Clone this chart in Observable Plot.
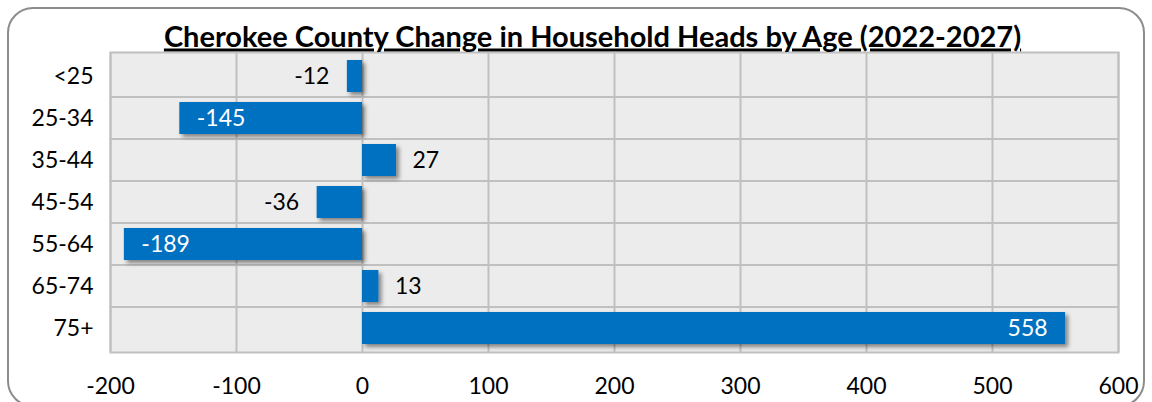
<!DOCTYPE html>
<html>
<head>
<meta charset="utf-8">
<script src="https://cdn.jsdelivr.net/npm/d3@7"></script>
<script src="https://cdn.jsdelivr.net/npm/@observablehq/plot@0.6"></script>
<style>
  html, body { margin: 0; padding: 0; background: #fff; }
  #wrap { position: relative; width: 1152px; height: 402px; overflow: hidden; }
  #frame { position: absolute; left: 7px; top: 7px; width: 1138px; height: 400px;
           border: 2px solid #8c8c8c; border-radius: 26px; box-sizing: border-box; pointer-events: none; }
</style>
</head>
<body>
<div id="wrap"><div id="frame"></div></div>
<script>
const title = "Cherokee County Change in Household Heads by Age (2022-2027)";
const ages = ["<25", "25-34", "35-44", "45-54", "55-64", "65-74", "75+"];
const changes = [-12, -145, 27, -36, -189, 13, 558];
const xTicks = [-200, -100, 0, 100, 200, 300, 400, 500, 600];

const data = ages.map((age, i) => ({age, value: changes[i]}));
const inside = d => Math.abs(d.value) > 100;
const fmt = v => v < 0 ? "-" + Math.abs(v) : String(v);
const font = "Lato, 'Open Sans', sans-serif";

const labelMark = (rows, anchor, dx, fill) => Plot.text(rows, {
  x: "value", y: "age", text: d => fmt(d.value), textAnchor: anchor, dx, fill, fontSize: 23
});

const chart = Plot.plot({
  width: 1152,
  height: 402,
  marginTop: 52,
  marginBottom: 50,
  marginLeft: 110,
  marginRight: 34,
  style: {fontFamily: font, fontSize: "23px", color: "#000", background: "transparent"},
  x: {domain: [-200, 600], ticks: xTicks, tickSize: 0, tickPadding: 25, label: null, tickFormat: fmt},
  y: {domain: ages, tickSize: 0, tickPadding: 17, label: null, paddingInner: 0.24, paddingOuter: 0.12},
  marks: [
    Plot.frame({fill: "#ececec", stroke: null}),
    Plot.gridX(xTicks, {stroke: "#c0c0c0", strokeWidth: 2, strokeOpacity: 1}),
    Plot.tickY(ages.slice(1), {y: d => d, stroke: "#c0c0c0", strokeWidth: 2, dy: -21.4}),
    Plot.frame({stroke: "#c0c0c0", strokeWidth: 2}),
    Plot.barX(data, {x: "value", y: "age", fill: "#0070c0"}),
    labelMark(data.filter(d => !inside(d) && d.value < 0), "end", -18, "#000"),
    labelMark(data.filter(d => !inside(d) && d.value >= 0), "start", 16, "#000"),
    labelMark(data.filter(d => inside(d) && d.value < 0), "start", 17, "#fff"),
    labelMark(data.filter(d => inside(d) && d.value >= 0), "end", -18, "#fff"),
    Plot.text([title], {frameAnchor: "top", dx: -22, dy: -6, lineAnchor: "bottom", fontSize: 29, fontWeight: "bold", fill: "#000"})
  ]
});

document.getElementById("wrap").prepend(chart);

const svg = d3.select(chart);
const defs = svg.insert("defs", ":first-child");
const f = defs.append("filter").attr("id", "shadow").attr("x", "-10%").attr("y", "-30%").attr("width", "130%").attr("height", "180%");
f.append("feDropShadow").attr("dx", 3).attr("dy", 3).attr("stdDeviation", 2).attr("flood-color", "#000").attr("flood-opacity", 0.45);
svg.select("g[aria-label='bar']").attr("filter", "url(#shadow)");

const textGroups = svg.selectAll("g[aria-label='text']").nodes();
d3.select(textGroups[textGroups.length - 1]).selectAll("text").style("text-decoration", "underline");
</script>
</body>
</html>
